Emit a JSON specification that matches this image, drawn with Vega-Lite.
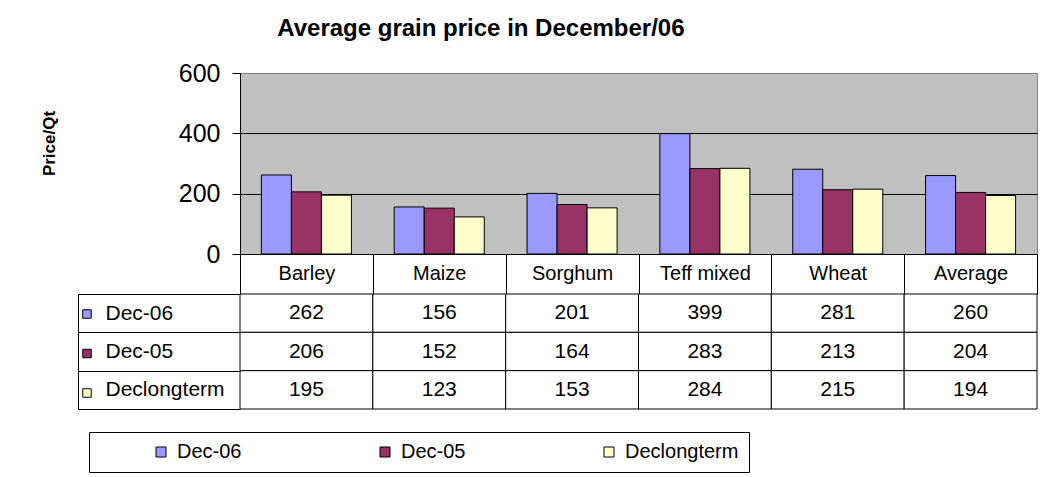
{
  "$schema": "https://vega.github.io/schema/vega-lite/v6.json",
  "background": "white",
  "padding": {"left": 39, "top": 16, "right": 5, "bottom": 5},
  "config": {"font": "Liberation Sans", "text": {"font": "Liberation Sans"}},
  "title": {"text": "Average grain price in December/06", "fontSize": 24, "fontWeight": "bold", "color": "black", "anchor": "middle", "offset": 20, "dx": -58},
  "spacing": 40,
  "bounds": "flush",
  "resolve": {"legend": {"fill": "independent", "color": "independent"}},
  "datasets": {
    "prices": [
      {"grain": "Barley", "series": "Dec-06", "price": 262},
      {"grain": "Barley", "series": "Dec-05", "price": 206},
      {"grain": "Barley", "series": "Declongterm", "price": 195},
      {"grain": "Maize", "series": "Dec-06", "price": 156},
      {"grain": "Maize", "series": "Dec-05", "price": 152},
      {"grain": "Maize", "series": "Declongterm", "price": 123},
      {"grain": "Sorghum", "series": "Dec-06", "price": 201},
      {"grain": "Sorghum", "series": "Dec-05", "price": 164},
      {"grain": "Sorghum", "series": "Declongterm", "price": 153},
      {"grain": "Teff mixed", "series": "Dec-06", "price": 399},
      {"grain": "Teff mixed", "series": "Dec-05", "price": 283},
      {"grain": "Teff mixed", "series": "Declongterm", "price": 284},
      {"grain": "Wheat", "series": "Dec-06", "price": 281},
      {"grain": "Wheat", "series": "Dec-05", "price": 213},
      {"grain": "Wheat", "series": "Declongterm", "price": 215},
      {"grain": "Average", "series": "Dec-06", "price": 260},
      {"grain": "Average", "series": "Dec-05", "price": 204},
      {"grain": "Average", "series": "Declongterm", "price": 194}
    ]
  },
  "vconcat": [
    {
      "width": 797,
      "height": 181,
      "data": {"name": "prices"},
      "view": {"fill": "#C0C0C0", "stroke": "#808080", "strokeWidth": 1},
      "mark": {"type": "bar", "stroke": "black", "strokeWidth": 1},
      "encoding": {
        "x": {"field": "grain", "type": "nominal",
              "scale": {"domain": ["Barley", "Maize", "Sorghum", "Teff mixed", "Wheat", "Average"], "paddingInner": 0, "paddingOuter": 0},
              "axis": {"title": null, "orient": "bottom", "domain": false, "ticks": true, "tickBand": "extent", "tickSize": 40, "tickColor": "black", "labelFontSize": 20, "labelPadding": -31, "labelColor": "black", "labelAngle": 0, "labelBaseline": "top", "grid": false}},
        "xOffset": {"field": "series", "type": "nominal",
              "scale": {"domain": ["Dec-06", "Dec-05", "Declongterm"], "paddingInner": 0, "paddingOuter": 0.713}},
        "y": {"field": "price", "type": "quantitative",
              "scale": {"domain": [0, 600], "nice": false},
              "axis": {"title": "Price/Qt", "values": [0, 200, 400, 600], "grid": true,
                       "gridColor": {"condition": {"test": "datum.value === 600", "value": "#808080"}, "value": "black"},
                       "gridOpacity": 1, "gridWidth": 1, "domainColor": "black", "tickColor": "black", "tickSize": 8, "labelFontSize": 25, "labelPadding": 12, "labelColor": "black", "titleFontSize": 17, "titleFontWeight": "bold", "titleColor": "black", "titlePadding": 120, "titleY": 70, "format": "d"}},
        "fill": {"field": "series", "type": "nominal",
              "scale": {"domain": ["Dec-06", "Dec-05", "Declongterm"], "range": ["#9999FF", "#993366", "#FFFFCC"]},
              "legend": {"orient": "none", "legendX": -151, "legendY": 359, "direction": "horizontal", "title": " ", "titleOrient": "left", "titleFontSize": 20, "titlePadding": 52, "strokeColor": "black", "fillColor": "white", "padding": 10, "symbolType": "square", "symbolSize": 100, "symbolStrokeColor": "black", "symbolStrokeWidth": 1, "symbolOpacity": 1, "labelFontSize": 20, "labelColor": "black", "labelOffset": 6, "labelLimit": 300, "columnPadding": 84, "gridAlign": "all"}}
      }
    },
    {
      "width": 797,
      "height": 115,
      "data": {"name": "prices"},
      "view": {"stroke": null},
      "encoding": {
        "x": {"field": "grain", "type": "nominal",
              "scale": {"domain": ["Barley", "Maize", "Sorghum", "Teff mixed", "Wheat", "Average"], "paddingInner": 0, "paddingOuter": 0},
              "axis": null},
        "y": {"field": "series", "type": "nominal",
              "scale": {"domain": ["Dec-06", "Dec-05", "Declongterm"], "paddingInner": 0, "paddingOuter": 0},
              "axis": {"title": null, "orient": "left", "offset": 162, "domain": true, "domainColor": "black", "ticks": true, "tickBand": "extent", "tickSize": -162, "tickColor": "black", "labelAlign": "left", "labelPadding": 135, "labelFontSize": 21, "labelColor": "black", "grid": false}}
      },
      "layer": [
        {"mark": {"type": "rect", "fill": "white", "stroke": "black", "strokeWidth": 1}},
        {"mark": {"type": "text", "fontSize": 21, "color": "black"},
         "encoding": {"text": {"field": "price", "type": "quantitative"}}},
        {"mark": {"type": "point", "shape": "square", "filled": true, "opacity": 0},
         "encoding": {"color": {"field": "series", "type": "nominal",
            "scale": {"domain": ["Dec-06", "Dec-05", "Declongterm"], "range": ["#9999FF", "#993366", "#FFFFCC"]},
            "legend": {"orient": "none", "legendX": -158, "legendY": 15, "direction": "vertical", "title": null, "symbolType": "square", "symbolSize": 72, "symbolStrokeColor": "black", "symbolStrokeWidth": 1, "symbolOpacity": 1, "labelExpr": "''", "labelFontSize": 1, "rowPadding": 25.5, "padding": 0}}}}
      ]
    }
  ]
}
